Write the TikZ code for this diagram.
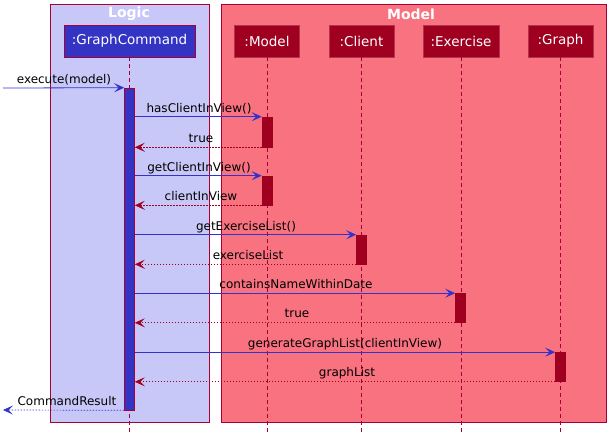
\documentclass[tikz,border=0pt]{standalone}
\usepackage{fontspec}
\setmainfont{DejaVu Sans}
\usetikzlibrary{arrows.meta}
\definecolor{crim}{RGB}{168,0,54}
\definecolor{logicfill}{RGB}{200,200,248}
\definecolor{modelfill}{RGB}{248,114,128}
\definecolor{gcblue}{RGB}{51,51,196}
\definecolor{mred}{RGB}{160,0,32}
\definecolor{arrblue}{RGB}{51,51,204}
\tikzset{
  grp/.style={draw=crim, line width=0.8pt},
  grptitle/.style={text=white, font=\bfseries\fontsize{14}{16}\selectfont, inner sep=0pt},
  part/.style={draw=crim, line width=0.6pt, minimum height=32pt, inner sep=0pt, text=white, font=\fontsize{13.5}{15}\selectfont},
  gcpart/.style={part, fill=gcblue, minimum width=131pt},
  mpart/.style={part, fill=mred, draw=mred!80!white},
  life/.style={draw=crim, dashed, dash pattern=on 4pt off 3pt, line width=0.6pt},
  act/.style={minimum width=10pt, inner sep=0pt, line width=0.6pt},
  gcact/.style={act, fill=gcblue, draw=crim},
  mact/.style={act, fill=mred, draw=mred},
  call/.style={draw=arrblue, line width=0.8pt, -{Stealth[length=10pt,width=9pt,inset=4.5pt]}},
  ret/.style={draw=mred, line width=0.7pt, dash pattern=on 1.5pt off 1.5pt, -{Stealth[length=10pt,width=9pt,inset=4.5pt]}},
  retb/.style={ret, draw=arrblue},
  lbl/.style={font=\fontsize{12}{14}\selectfont, inner sep=0pt, anchor=base}
}
\begin{document}
\begin{tikzpicture}[x=1pt,y=-1pt]
\useasboundingbox (0,0) rectangle (616,439);
\fill[white] (0,0) rectangle (616,439);
% groups
\node[grp, fill=logicfill, minimum width=159pt, minimum height=418pt, inner sep=0pt] (logic) at (129.5,213) {};
\node[grp, fill=modelfill, minimum width=385pt, minimum height=418pt, inner sep=0pt] (model) at (413.5,213) {};
\node[grptitle] (logict) at (129,14) {Logic};
\node[grptitle] (modelt) at (411,14) {Model};
% participants
\node[gcpart] (gc) at (129.5,41) {:GraphCommand};
\node[mpart, minimum width=65pt] (m) at (267,41) {:Model};
\node[mpart, minimum width=65pt] (c) at (361.5,41) {:Client};
\node[mpart, minimum width=76pt] (e) at (461,41) {:Exercise};
\node[mpart, minimum width=65pt] (g) at (560.5,41) {:Graph};
% lifeline ends
\coordinate (bot) at (0,432);
\draw[life] (gc.south) -- (gc.south |- bot);
\draw[life] (m.south) -- (m.south |- bot);
\draw[life] (c.south) -- (c.south |- bot);
\draw[life] (e.south) -- (e.south |- bot);
\draw[life] (g.south) -- (g.south |- bot);
% activations
\node[gcact, minimum height=322pt] (gca) at (129.5,249) {};
\node[mact, minimum height=30pt] (ma1) at (267,132) {};
\node[mact, minimum height=29pt] (ma2) at (267,190.5) {};
\node[mact, minimum height=29pt] (ca) at (361.5,249.5) {};
\node[mact, minimum height=29pt] (ea) at (460.5,308) {};
\node[mact, minimum height=29pt] (ga) at (560.5,367) {};
% messages
\coordinate (start) at (3,88);
\coordinate (endp) at (3,410);
\draw[call] (start) -- (gca.north west);
\node[lbl] (l0) at (64,83) {execute(model)};
\draw[call] (gca.east |- ma1.north) -- (ma1.north west);
\node[lbl] (l1) at (199,112) {hasClientInView()};
\draw[ret] (ma1.south west) -- (gca.east |- ma1.south);
\node[lbl] (l2) at (201,142) {true};
\draw[call] (gca.east |- ma2.north) -- (ma2.north west);
\node[lbl] (l3) at (199,171) {getClientInView()};
\draw[ret] (ma2.south west) -- (gca.east |- ma2.south);
\node[lbl] (l4) at (201,200) {clientInView};
\draw[call] (gca.east |- ca.north) -- (ca.north west);
\node[lbl] (l5) at (246,230) {getExerciseList()};
\draw[ret] (ca.south west) -- (gca.east |- ca.south);
\node[lbl] (l6) at (248,259) {exerciseList};
\draw[call] (gca.east |- ea.north) -- (ea.north west);
\node[lbl] (l7) at (296,288) {containsNameWithinDate};
\draw[ret] (ea.south west) -- (gca.east |- ea.south);
\node[lbl] (l8) at (297,317) {true};
\draw[call] (gca.east |- ga.north) -- (ga.north west);
\node[lbl] (l9) at (345,347) {generateGraphList(clientInView)};
\draw[ret] (ga.south west) -- (gca.east |- ga.south);
\node[lbl] (l10) at (347,376) {graphList};
\draw[retb] (gca.south west) -- (endp);
\node[lbl] (l11) at (67,405) {CommandResult};
\end{tikzpicture}
\end{document}
